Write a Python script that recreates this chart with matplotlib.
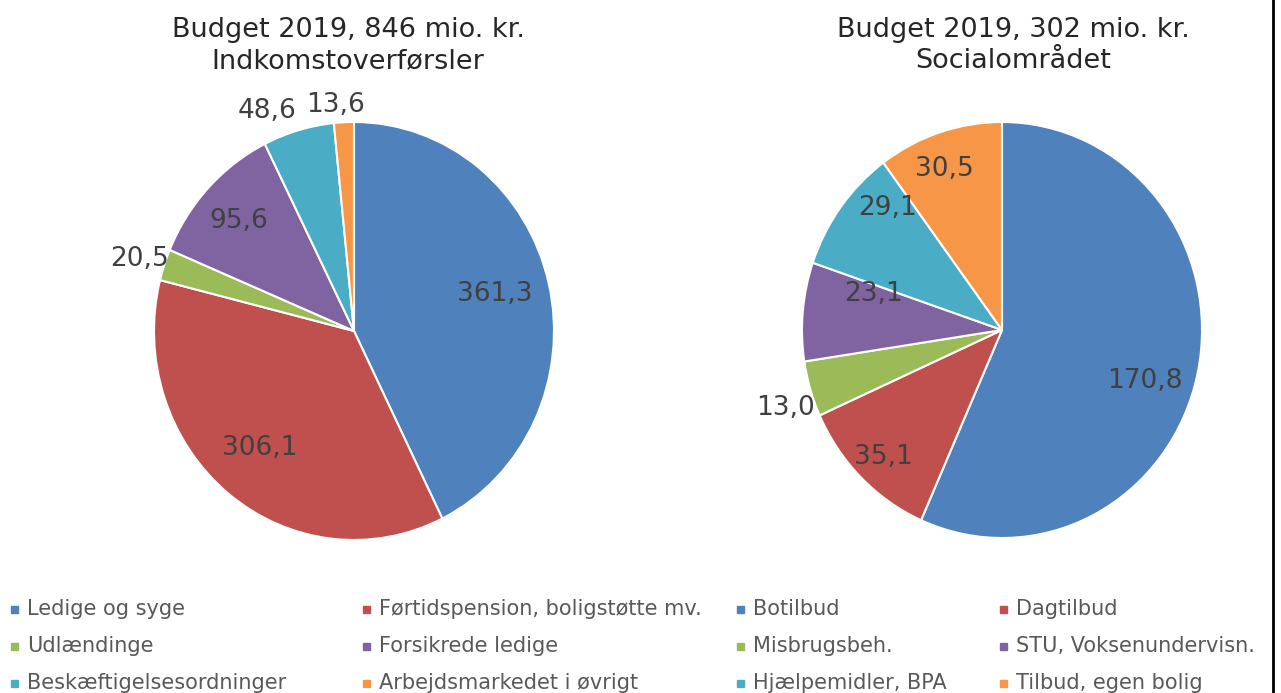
import matplotlib.pyplot as plt
from matplotlib.patches import Rectangle
import numpy as np

# data
left_title = "Budget 2019, 846 mio. kr.\nIndkomstoverførsler"
left_labels = ["Ledige og syge", "Førtidspension, boligstøtte mv.", "Udlændinge",
               "Forsikrede ledige", "Beskæftigelsesordninger", "Arbejdsmarkedet i øvrigt"]
left_values = [361.3, 306.1, 20.5, 95.6, 48.6, 13.6]

right_title = "Budget 2019, 302 mio. kr.\nSocialområdet"
right_labels = ["Botilbud", "Dagtilbud", "Misbrugsbeh.",
                "STU, Voksenundervisn.", "Hjælpemidler, BPA", "Tilbud, egen bolig"]
right_values = [170.8, 35.1, 13.0, 23.1, 29.1, 30.5]

colors = ["#4F81BD", "#C0504D", "#9BBB59", "#8064A2", "#4BACC6", "#F79646"]

# label placement: (distance from center as fraction of radius, angle shift in deg)
left_label_pos = [(0.73, 2), (0.72, -2), (1.13, 0), (0.79, 0), (1.15, 6), (1.10, 2)]
right_label_pos = [(0.75, -6), (0.84, 0), (1.14, 2), (0.67, -11), (0.83, -10), (0.84, 2)]

W, H = 1281, 693
fig = plt.figure(figsize=(W / 100, H / 100), dpi=100)
plt.rcParams['font.family'] = ['DejaVu Sans']


def draw_pie(cx, cy, rx, ry, values, label_pos, title, title_x):
    ax = fig.add_axes([(cx - rx) / W, (H - cy - ry) / H, 2 * rx / W, 2 * ry / H])
    wedges, _ = ax.pie(values, colors=colors, startangle=90, counterclock=False,
                       wedgeprops=dict(edgecolor="white", linewidth=1.5))
    ax.set_aspect("auto")
    ax.set_xlim(-1, 1)
    ax.set_ylim(-1, 1)
    ax.axis("off")
    for w, v, (r, da) in zip(wedges, values, label_pos):
        mid = np.deg2rad((w.theta1 + w.theta2) / 2 + da)
        ax.text(r * np.cos(mid), r * np.sin(mid), f"{v:.1f}".replace(".", ","),
                ha="center", va="center_baseline", fontsize=19, color="#404040",
                clip_on=False)
    fig.text(title_x / W, 1 - 17 / H, title, ha="center", va="top",
             fontsize=19.5, color="#262626", linespacing=1.25)


draw_pie(354, 331, 200, 209, left_values, left_label_pos, left_title, 348)
draw_pie(1002, 330, 200, 208, right_values, right_label_pos, right_title, 1013)

# legend laid out like the original (two columns per pie, three rows)
col_x = [14, 366, 740, 1003]
row_y = [609, 646, 683]
for p, labels in enumerate([left_labels, right_labels]):
    for i, lab in enumerate(labels):
        x = col_x[2 * p + i % 2]
        y = row_y[i // 2]
        fig.patches.append(Rectangle(((x - 3) / W, (H - y - 4) / H), 7 / W, 7 / H,
                                     transform=fig.transFigure, color=colors[i]))
        fig.text((x + 13) / W, (H - y) / H, lab, ha="left", va="center",
                 fontsize=15, color="#595959")

# thin frame line at right edge
fig.add_artist(plt.Line2D([1273 / W, 1273 / W], [0, 1], color="black", lw=2,
                          transform=fig.transFigure))

fig.savefig("out.png", dpi=100, facecolor="white")
